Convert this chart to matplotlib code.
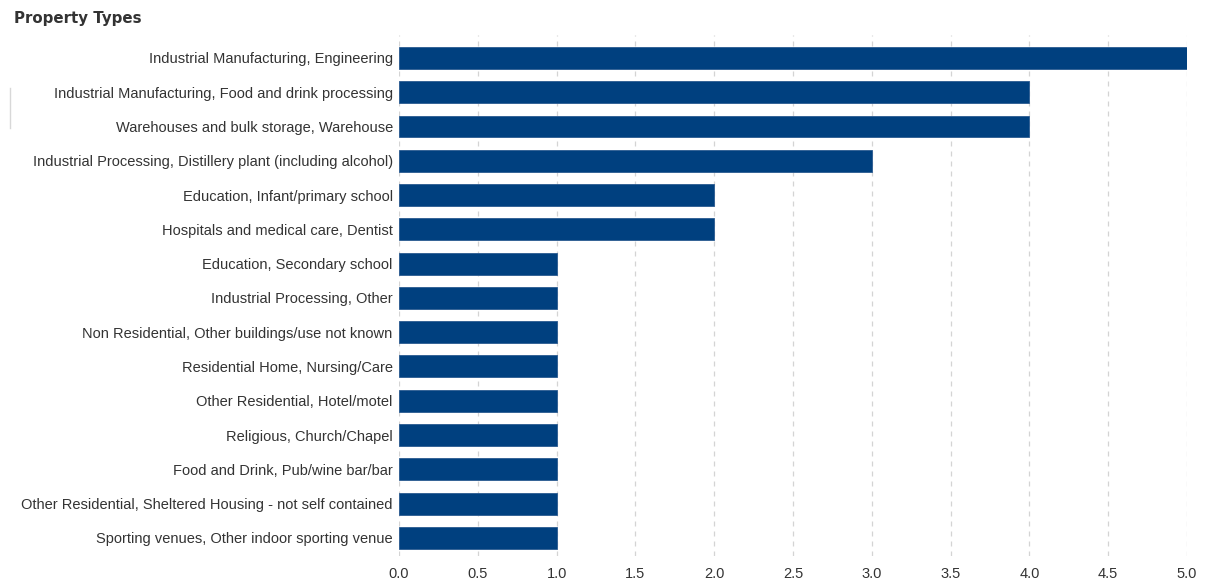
import matplotlib.pyplot as plt
import matplotlib
from matplotlib.lines import Line2D
import numpy as np

#### plot settings
plt.rcParams['font.family'] = ['Liberation Sans', 'DejaVu Sans']
plt.rcParams['font.size'] = 10
textcolor = '#333333'
barcolor = '#00407f'
gridcolor = '#d4d4d4'

categories = [
    'Industrial Manufacturing, Engineering',
    'Industrial Manufacturing, Food and drink processing',
    'Warehouses and bulk storage, Warehouse',
    'Industrial Processing, Distillery plant (including alcohol)',
    'Education, Infant/primary school',
    'Hospitals and medical care, Dentist',
    'Education, Secondary school',
    'Industrial Processing, Other',
    'Non Residential, Other buildings/use not known',
    'Residential Home, Nursing/Care',
    'Other Residential, Hotel/motel',
    'Religious, Church/Chapel',
    'Food and Drink, Pub/wine bar/bar',
    'Other Residential, Sheltered Housing - not self contained',
    'Sporting venues, Other indoor sporting venue',
]
counts = [5, 4, 4, 3, 2, 2, 1, 1, 1, 1, 1, 1, 1, 1, 1]
xticks = [0.0, 0.5, 1.0, 1.5, 2.0, 2.5, 3.0, 3.5, 4.0, 4.5, 5.0]

fig = plt.figure(figsize=(12.08, 5.83), dpi=100)
ax = fig.add_axes([399/1208, 27/583, 788/1208, 521/583])

pos = np.arange(len(categories))
ax.barh(pos, counts, height=0.64, color=barcolor, edgecolor='#2a5a90', linewidth=0.6, zorder=2)

ax.set_xlim(0, 5)
ax.set_ylim(len(categories) - 1 + 0.53, -0.67)
ax.set_yticks(pos)
ax.set_yticklabels(categories, color=textcolor, fontsize=10.5)
ax.set_xticks(xticks)
ax.set_xticklabels(['{:.1f}'.format(t) for t in xticks], color=textcolor, fontsize=10.5)
ax.tick_params(axis='both', length=0)
ax.tick_params(axis='y', pad=4.5)
ax.tick_params(axis='x', pad=8)
for s in ax.spines.values():
    s.set_visible(False)
ax.grid(axis='x', linestyle=(0, (4, 4)), color=gridcolor, linewidth=0.9, zorder=0)
ax.set_axisbelow(True)

fig.text(14/1208, 1 - 18/583, 'Property Types', fontsize=10.8, fontweight='bold',
         family=['DejaVu Sans'], color=textcolor, ha='left', va='center')
# small stray divider on the left edge
fig.add_artist(Line2D([10/1208, 10/1208], [1 - 88/583, 1 - 128/583],
                      color='#d8d8d8', linewidth=1))

plt.savefig('out.png', dpi=100)
